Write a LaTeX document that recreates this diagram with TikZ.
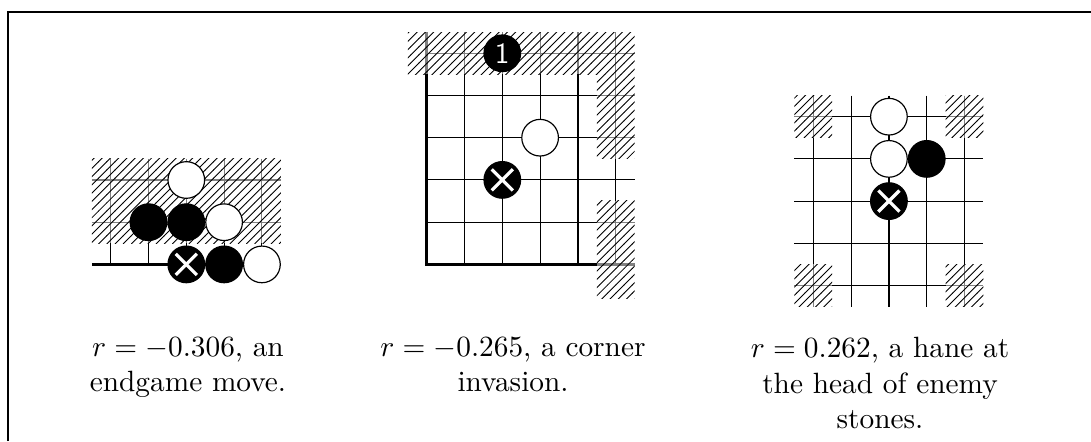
\documentclass[tikz,border=0pt]{standalone}
\usepackage{tikz}
\usetikzlibrary{patterns.meta}

\tikzdeclarepattern{
  name=go_hatch,
  type=uncolored,
  bounding box={(-.1pt,-.1pt) and (2.9pt,2.9pt)},
  tile size={(2.8pt,2.8pt)},
  code={\draw[line width=.3pt] (-.1pt,-.1pt) -- (2.9pt,2.9pt);}
}

\tikzset{
  % Board line
  grid_line/.style={
    line width=0.4pt, draw=black
  },
  % Board edge
  edge_line/.style={
    line width=1.1pt, draw=black
  },
  % Masked part of the board
  hatch_area/.style={
    fill=white, fill opacity=0.5,
    postaction={fill opacity=1, pattern=go_hatch}
  },
  % White stone
  white_stone/.style={
    circle, draw=black, line width=0.4pt,
    fill=white, minimum size=12.5pt,
    inner sep=0pt
  },
  % Black stone
  black_stone/.style={
    circle, draw=black, line width=0.4pt,
    fill=black, minimum size=12.5pt,
    inner sep=0pt, text=white,
    font=\sffamily
  },
  % Black stone with a cross
  cross_stone/.style={
    black_stone,
    path picture={
      \draw[white, line width=1.1pt]
        ([shift={(-3.6pt,-3.6pt)}]path picture bounding box.center) --
        ([shift={(3.6pt,3.6pt)}]path picture bounding box.center);
      \draw[white, line width=1.1pt]
        ([shift={(-3.6pt,3.6pt)}]path picture bounding box.center) --
        ([shift={(3.6pt,-3.6pt)}]path picture bounding box.center);
    }
  },
  % Caption text
  caption/.style={
    text width=95pt, align=flush center,
    inner sep=0pt, anchor=north
  },
  % Frame
  frame_line/.style={
    line width=0.8pt, draw=black
  }
}

\begin{document}
\begin{tikzpicture}[x={(0.341pt,0)}, y={(0,-0.341pt)}]

\useasboundingbox (0,0) rectangle (1091,441);
\draw[frame_line] (8,441) -- (8,12) -- (1091,12);

% ── endgame move ─────────────────────────────
\begin{scope}[shift={(110.7,180)}, x=12.89pt, y=-14.39pt]
  \foreach \c in {0,...,4} \draw[grid_line] (\c,-0.5) -- (\c,2);
  \foreach \r in {0,1} \draw[grid_line] (-0.5,\r) -- (4.5,\r);
  \draw[edge_line] (-0.5,2) -- (4.5,2);
  \path[hatch_area] (-0.5,-0.5) rectangle (4.5,1.5);

  \node[white_stone] (d1_w1) at (2,0) {};
  \node[black_stone] (d1_b1) at (1,1) {};
  \node[black_stone] (d1_b2) at (2,1) {};
  \node[white_stone] (d1_w2) at (3,1) {};
  \node[cross_stone] (d1_x)  at (2,2) {};
  \node[black_stone] (d1_b3) at (3,2) {};
  \node[white_stone] (d1_w3) at (4,2) {};
\end{scope}

% ── corner invasion ──────────────────────────
\begin{scope}[shift={(426.7,53.3)}, x=12.89pt, y=-14.39pt]
  \foreach \c in {1,...,5} \draw[grid_line] (\c,-0.5) -- (\c,5);
  \foreach \r in {0,...,4} \draw[grid_line] (0,\r) -- (5.5,\r);
  \draw[edge_line] (0,-0.5) -- (0,5) -- (5.5,5);
  \path[hatch_area] (-0.5,-0.5) rectangle (5.5,0.5);
  \path[hatch_area] (4.5,0.5) rectangle (5.5,2.5);
  \path[hatch_area] (4.5,3.5) rectangle (5.5,5.8);

  \node[black_stone] (d2_one) at (2,0) {1};
  \node[white_stone] (d2_w)   at (3,2) {};
  \node[cross_stone] (d2_x)   at (2,3) {};
\end{scope}

% ── hane at the head ─────────────────────────
\begin{scope}[shift={(813.3,116.7)}, x=12.89pt, y=-14.39pt]
  \foreach \c in {0,...,4} \draw[grid_line] (\c,-0.5) -- (\c,4.5);
  \foreach \r in {0,...,4} \draw[grid_line] (-0.5,\r) -- (4.5,\r);
  \path[hatch_area] (-0.5,-0.5) rectangle (0.5,0.5);
  \path[hatch_area] (3.5,-0.5) rectangle (4.5,0.5);
  \path[hatch_area] (-0.5,3.5) rectangle (0.5,4.5);
  \path[hatch_area] (3.5,3.5) rectangle (4.5,4.5);

  \node[white_stone] (d3_w1) at (2,0) {};
  \node[white_stone] (d3_w2) at (2,1) {};
  \node[black_stone] (d3_b)  at (3,1) {};
  \node[cross_stone] (d3_x)  at (2,2) {};
\end{scope}

% ── captions ─────────────────────────────────
\node[caption] (cap_endgame) at (188,337)
  {$r=-0.306$, an\\endgame move.};
\node[caption] (cap_corner) at (513,337)
  {$r=-0.265$, a corner\\invasion.};
\node[caption] (cap_hane) at (880,337)
  {$r=0.262$, a hane at\\the head of enemy\\stones.};

\end{tikzpicture}
\end{document}
